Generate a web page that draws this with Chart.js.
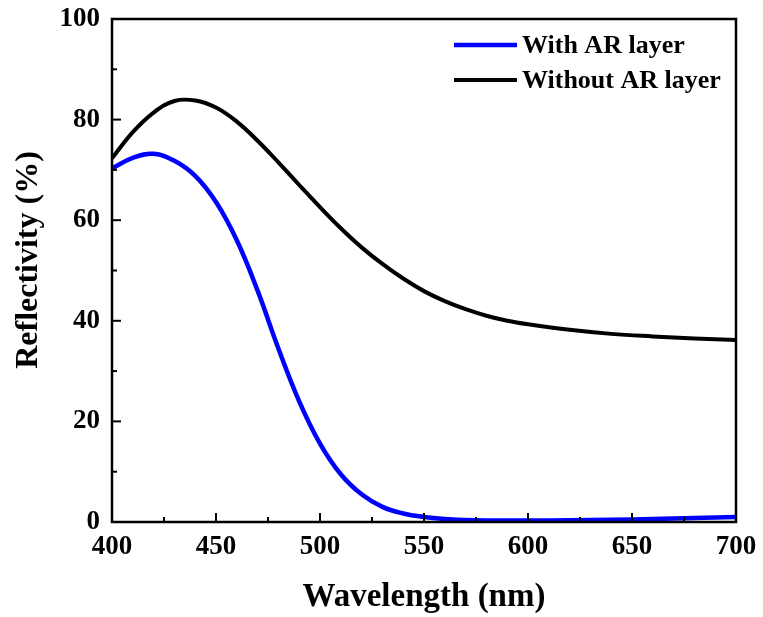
<!DOCTYPE html>
<html>
<head>
<meta charset="utf-8">
<script src="https://cdn.jsdelivr.net/npm/chart.js@4"></script>
<style>
  html, body { margin: 0; padding: 0; background: #fff; }
  #wrap { width: 763px; height: 617px; }
</style>
</head>
<body>
<div id="wrap"><canvas id="reflChart" width="763" height="617"></canvas></div>
<script>
// wavelengths in nm
const wavelength = [400, 410, 420, 430, 440, 450, 460, 470, 480, 490, 500,
  510, 520, 530, 540, 550, 560, 570, 580, 590, 600, 620, 640, 660, 680, 700];
// reflectivity (%) with anti-reflection layer
const withAR = [70.3, 72.4, 73.2, 71.8, 68.8, 63.6, 56.0, 46.0, 34.5, 24.0, 15.6,
  9.5, 5.5, 3.0, 1.7, 1.0, 0.6, 0.4, 0.3, 0.3, 0.3, 0.35, 0.45, 0.6, 0.8, 1.0];
// reflectivity (%) without AR layer
const withoutAR = [72.3, 77.5, 81.4, 83.7, 83.8, 82.4, 79.6, 75.8, 71.5, 67.0, 62.6,
  58.4, 54.6, 51.3, 48.4, 45.9, 43.9, 42.3, 41.0, 40.0, 39.3, 38.2, 37.4, 36.9, 36.5, 36.2];

const xTicks = [400, 450, 500, 550, 600, 650, 700];
const yTicks = [0, 20, 40, 60, 80, 100];

const FONT = "'Liberation Serif', 'Times New Roman', serif";

function pts(ys) {
  return wavelength.map((w, i) => ({ x: w, y: ys[i] }));
}

// frame, inward ticks, y title and legend
const decorations = {
  id: 'decorations',
  afterDraw(chart) {
    const ctx = chart.ctx;
    const a = chart.chartArea;
    const xs = chart.scales.x, ys = chart.scales.y;
    ctx.save();
    ctx.strokeStyle = '#000';
    ctx.lineWidth = 2.5;
    ctx.strokeRect(a.left, a.top, a.right - a.left, a.bottom - a.top);

    ctx.lineWidth = 2;
    for (let v = 400; v <= 700; v += 25) {
      const px = xs.getPixelForValue(v);
      const len = (v % 50 === 0) ? 9 : 5;
      ctx.beginPath();
      ctx.moveTo(px, a.bottom);
      ctx.lineTo(px, a.bottom - len);
      ctx.stroke();
    }
    for (let v = 0; v <= 100; v += 10) {
      const py = ys.getPixelForValue(v);
      const len = (v % 20 === 0) ? 9 : 5;
      ctx.beginPath();
      ctx.moveTo(a.left, py);
      ctx.lineTo(a.left + len, py);
      ctx.stroke();
    }

    // y axis title
    ctx.save();
    ctx.translate(29, 260);
    ctx.rotate(-Math.PI / 2);
    ctx.font = 'bold 32px ' + FONT;
    ctx.fillStyle = '#000';
    ctx.textAlign = 'center';
    ctx.textBaseline = 'middle';
    ctx.fillText('Reflectivity (%)', 0, 0);
    ctx.restore();

    // legend
    ctx.font = 'bold 26px ' + FONT;
    ctx.textBaseline = 'middle';
    ctx.textAlign = 'left';
    const rowsY = [45, 80];
    chart.data.datasets.forEach((ds, i) => {
      ctx.strokeStyle = ds.borderColor;
      ctx.lineWidth = ds.borderWidth;
      ctx.beginPath();
      ctx.moveTo(454, rowsY[i]);
      ctx.lineTo(517, rowsY[i]);
      ctx.stroke();
      ctx.fillStyle = '#000';
      ctx.fillText(ds.label, 522, rowsY[i] + 1);
    });
    ctx.restore();
  }
};

const ctx = document.getElementById('reflChart').getContext('2d');
const chart = new Chart(ctx, {
  type: 'line',
  data: {
    datasets: [
      {
        label: 'With AR layer',
        data: pts(withAR),
        borderColor: '#0000ff',
        borderWidth: 4.5,
        pointRadius: 0,
        tension: 0.4,
        fill: false
      },
      {
        label: 'Without AR layer',
        data: pts(withoutAR),
        borderColor: '#000000',
        borderWidth: 4,
        pointRadius: 0,
        tension: 0.4,
        fill: false
      }
    ]
  },
  options: {
    responsive: false,
    animation: false,
    devicePixelRatio: 1,
    layout: { padding: { top: 19, right: 27, left: 0, bottom: 0 } },
    plugins: {
      legend: { display: false },
      tooltip: { enabled: false }
    },
    scales: {
      x: {
        type: 'linear',
        min: 400,
        max: 700,
        afterBuildTicks(scale) { scale.ticks = xTicks.map(v => ({ value: v })); },
        afterFit(scale) {
          scale.height = 95;
          scale.paddingLeft = 0;
          scale.paddingRight = 0;
        },
        grid: { display: false, drawTicks: false },
        border: { display: false },
        ticks: {
          color: '#000',
          padding: 9,
          maxRotation: 0,
          font: { family: FONT, size: 27, weight: 'bold' }
        },
        title: {
          display: true,
          text: 'Wavelength (nm)',
          color: '#000',
          padding: { top: 3, bottom: 0 },
          font: { family: FONT, size: 33, weight: 'bold' }
        }
      },
      y: {
        min: 0,
        max: 100,
        afterBuildTicks(scale) { scale.ticks = yTicks.map(v => ({ value: v })); },
        afterFit(scale) {
          scale.width = 112;
          scale.paddingTop = 0;
          scale.paddingBottom = 0;
        },
        grid: { display: false, drawTicks: false },
        border: { display: false },
        ticks: {
          color: '#000',
          padding: 12,
          font: { family: FONT, size: 27, weight: 'bold' }
        },
        title: { display: false }
      }
    }
  },
  plugins: [decorations]
});
</script>
</body>
</html>
